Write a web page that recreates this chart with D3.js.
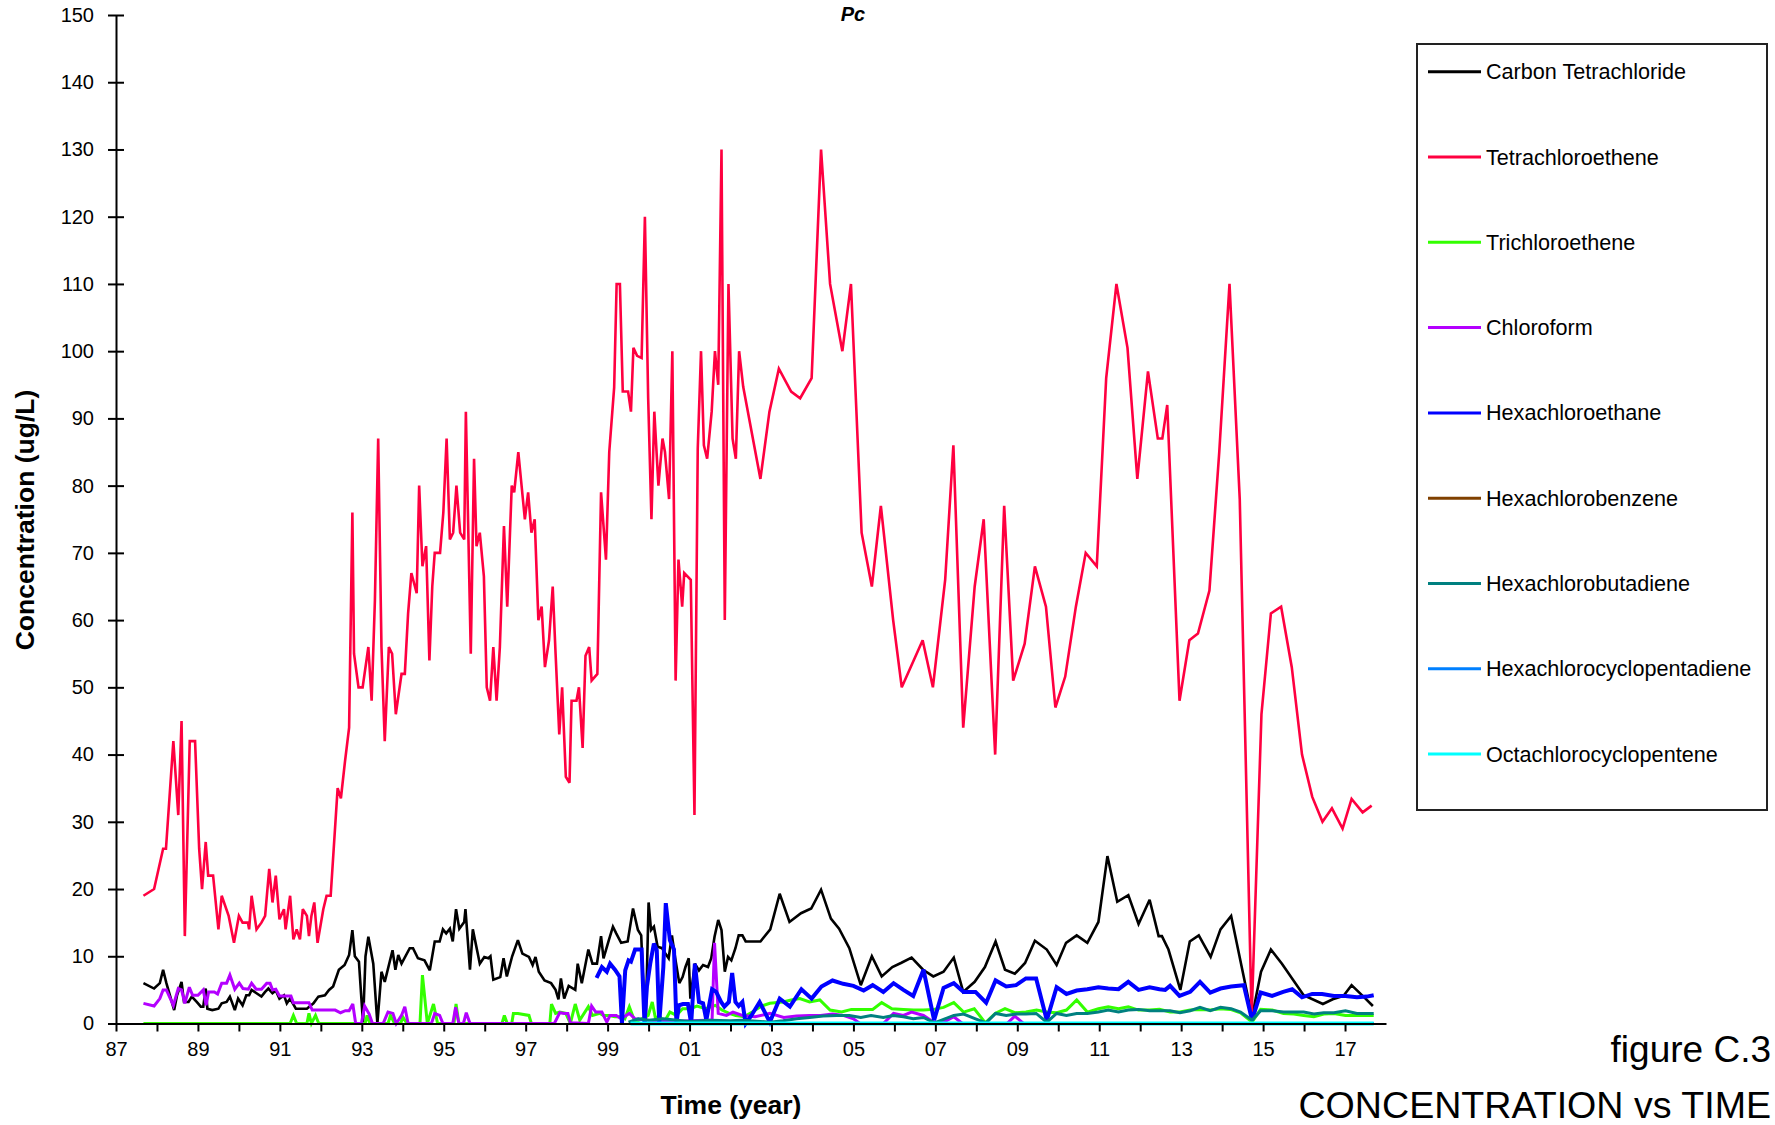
<!DOCTYPE html>
<html><head><meta charset="utf-8">
<script src="https://cdn.jsdelivr.net/npm/d3@7"></script>
<style>
body{margin:0;background:#fff;}
svg{display:block;font-family:"Liberation Sans",Arial,Helvetica,sans-serif;}
</style>
</head><body>
<svg id="chart" width="1775" height="1125"></svg>
<script>
// ---------- DATA ----------
const seriesNames = ["Carbon Tetrachloride","Tetrachloroethene","Trichloroethene","Chloroform","Hexachloroethane","Hexachlorobenzene","Hexachlorobutadiene","Hexachlorocyclopentadiene","Octachlorocyclopentene"];
const seriesColors = ["#000000","#FF0040","#33FF00","#B400FF","#0000FF","#804000","#008080","#0080FF","#00FFFF"];
const yTickValues = [0,10,20,30,40,50,60,70,80,90,100,110,120,130,140,150];
const xTickYears = [1987,1988,1989,1990,1991,1992,1993,1994,1995,1996,1997,1998,1999,2000,2001,2002,2003,2004,2005,2006,2007,2008,2009,2010,2011,2012,2013,2014,2015,2016,2017];

// [decimal year, ug/L]
const carbonTetrachloride = [[1987.67,6],[1987.93,5.2],[1988.07,6],[1988.15,8],[1988.23,6],[1988.42,2],[1988.49,4.2],[1988.6,6.2],[1988.66,3.2],[1988.77,3.2],[1988.85,4],[1988.97,3.2],[1989.07,2.5],[1989.13,2.5],[1989.19,5.2],[1989.23,2.2],[1989.35,2],[1989.5,2.2],[1989.58,3],[1989.7,3.2],[1989.78,4],[1989.9,2],[1989.98,3.7],[1990.09,2.7],[1990.18,4.2],[1990.25,4.2],[1990.31,5],[1990.43,4.5],[1990.55,4],[1990.64,4.7],[1990.72,5.2],[1990.82,4.5],[1990.9,4.9],[1990.99,3.7],[1991.1,4.2],[1991.17,3],[1991.25,3.7],[1991.39,2.2],[1991.53,2.2],[1991.66,2.2],[1991.82,3],[1991.94,4],[1992.1,4.2],[1992.2,5],[1992.3,5.5],[1992.44,8],[1992.58,8.7],[1992.69,10.2],[1992.77,13.9],[1992.83,10],[1992.93,9.2],[1993.03,0],[1993.09,10],[1993.16,12.9],[1993.28,8.9],[1993.38,0],[1993.48,7.7],[1993.56,6.2],[1993.75,10.9],[1993.82,8],[1993.89,10.2],[1993.97,8.9],[1994.17,11.2],[1994.25,11.2],[1994.37,9.7],[1994.53,9.4],[1994.66,7.9],[1994.78,12.2],[1994.9,12.2],[1994.98,14],[1995.06,13.4],[1995.15,14.1],[1995.22,12.2],[1995.3,17],[1995.38,14.1],[1995.5,15.1],[1995.53,17],[1995.64,8],[1995.71,14],[1995.83,10.4],[1995.88,8.9],[1995.99,9.9],[1996.09,9.7],[1996.14,10],[1996.21,6.5],[1996.38,6.9],[1996.46,9.7],[1996.54,7],[1996.67,10],[1996.81,12.4],[1996.92,10.4],[1997.08,9.9],[1997.17,8.7],[1997.24,9.9],[1997.32,7.7],[1997.46,6.4],[1997.62,6],[1997.73,5],[1997.8,3.6],[1997.86,6.7],[1997.94,3.7],[1998.05,5.6],[1998.21,5],[1998.27,8.9],[1998.37,6],[1998.53,11],[1998.63,8.9],[1998.74,8.9],[1998.84,13],[1998.9,9.7],[1999.03,12.4],[1999.13,14.4],[1999.21,13.4],[1999.33,12],[1999.49,12.2],[1999.62,17.1],[1999.74,13.9],[1999.82,13.1],[1999.86,7.2],[1999.93,0],[2000.0,18],[2000.06,13.9],[2000.13,14.4],[2000.22,11.4],[2000.33,11.2],[2000.41,10.4],[2000.49,9.7],[2000.57,13.1],[2000.65,9.7],[2000.75,6],[2000.83,6.9],[2000.9,8.4],[2000.98,9.7],[2001.02,3.7],[2001.13,8.9],[2001.23,7.9],[2001.33,8.7],[2001.45,8.4],[2001.53,9.7],[2001.61,12.9],[2001.7,15.4],[2001.78,13.9],[2001.86,7.7],[2001.94,9.9],[2002.02,9.4],[2002.12,11.2],[2002.2,13.1],[2002.29,13.1],[2002.37,12.2],[2002.73,12.2],[2002.97,14],[2003.2,19.3],[2003.44,15.1],[2003.72,16.4],[2003.97,17.1],[2004.21,19.9],[2004.45,15.6],[2004.65,14.1],[2004.9,11.2],[2005.18,5.7],[2005.45,10],[2005.69,7],[2005.95,8.4],[2006.16,9],[2006.42,9.8],[2006.7,8],[2006.95,7],[2007.2,7.7],[2007.45,9.8],[2007.68,4.7],[2007.96,6.2],[2008.21,8.4],[2008.47,12.2],[2008.7,8],[2008.94,7.4],[2009.19,9],[2009.43,12.3],[2009.72,11],[2009.96,8.7],[2010.19,12],[2010.45,13.1],[2010.71,12],[2010.98,15.1],[2011.2,24.9],[2011.44,18.1],[2011.71,19.1],[2011.96,14.8],[2012.23,18.4],[2012.45,13],[2012.53,13],[2012.69,11],[2012.98,5],[2013.21,12.2],[2013.43,13.1],[2013.72,9.9],[2013.96,14],[2014.22,16],[2014.73,1],[2014.95,7.7],[2015.19,11],[2015.46,8.9],[2015.99,4.2],[2016.46,2.9],[2016.7,3.6],[2016.96,4.1],[2017.16,5.7],[2017.45,4],[2017.68,2.6]];

const tetrachloroethene = [[1987.67,19],[1987.93,20],[1988.15,26],[1988.22,26],[1988.4,42],[1988.52,31],[1988.6,45],[1988.68,13],[1988.8,42],[1988.93,42],[1989.03,26],[1989.1,20],[1989.19,27],[1989.25,22],[1989.37,22],[1989.5,14],[1989.58,19],[1989.75,16],[1989.88,12],[1990.0,16],[1990.09,15],[1990.22,15],[1990.25,14],[1990.31,19],[1990.43,14],[1990.55,15],[1990.64,16],[1990.74,23],[1990.82,18],[1990.9,22],[1990.99,15.5],[1991.1,17],[1991.14,14],[1991.25,19],[1991.33,12.5],[1991.41,14],[1991.49,12.5],[1991.56,17],[1991.66,16],[1991.71,13],[1991.77,16],[1991.84,18],[1991.92,12],[1992.06,17],[1992.14,19],[1992.24,19],[1992.41,35],[1992.49,33.5],[1992.59,39],[1992.69,44],[1992.77,76],[1992.81,55],[1992.92,50],[1993.02,50],[1993.16,56],[1993.24,48],[1993.32,63],[1993.4,87],[1993.48,56],[1993.56,42],[1993.66,56],[1993.74,55],[1993.83,46],[1993.97,52],[1994.05,52],[1994.13,61],[1994.21,67],[1994.34,64],[1994.4,80],[1994.48,68],[1994.57,71],[1994.65,54],[1994.72,65],[1994.78,70],[1994.91,70],[1994.99,76],[1995.07,87],[1995.15,72],[1995.23,73],[1995.31,80],[1995.4,73],[1995.5,72],[1995.54,91],[1995.66,55],[1995.74,84],[1995.8,71],[1995.88,73],[1995.98,66.5],[1996.05,50],[1996.13,48],[1996.21,56],[1996.29,48],[1996.37,56],[1996.47,74],[1996.55,62],[1996.66,80],[1996.72,79],[1996.82,85],[1996.98,75],[1997.06,79],[1997.14,73],[1997.22,75],[1997.31,60],[1997.39,62],[1997.47,53],[1997.57,57],[1997.66,65],[1997.73,55],[1997.82,43],[1997.89,50],[1997.98,36.7],[1998.07,35.8],[1998.12,48],[1998.24,48],[1998.3,50],[1998.39,41],[1998.46,54.7],[1998.55,56],[1998.61,51],[1998.75,52],[1998.84,79],[1998.96,69],[1999.04,85],[1999.16,94.6],[1999.22,110],[1999.3,110],[1999.37,94],[1999.5,94],[1999.57,91],[1999.63,100.5],[1999.72,99.3],[1999.83,99],[1999.91,120],[1999.99,93],[2000.07,75],[2000.14,91],[2000.24,80],[2000.34,87],[2000.4,85],[2000.5,78],[2000.58,100],[2000.66,51],[2000.73,69],[2000.82,62],[2000.87,67],[2001.03,66],[2001.12,31],[2001.2,85.5],[2001.28,100],[2001.35,86],[2001.43,84],[2001.54,91],[2001.62,100],[2001.7,95],[2001.78,130],[2001.86,60],[2001.95,110],[2002.05,87],[2002.13,84],[2002.21,100],[2002.31,94.7],[2002.73,81],[2002.95,91],[2003.18,97.4],[2003.48,94],[2003.7,93],[2003.98,96],[2004.21,130],[2004.43,110],[2004.73,100],[2004.94,110],[2005.2,73],[2005.45,65],[2005.67,77],[2005.97,60],[2006.18,50],[2006.69,57],[2006.94,50],[2007.24,66],[2007.44,86],[2007.68,44],[2007.96,65],[2008.18,75],[2008.46,40],[2008.68,77],[2008.9,51],[2009.18,56.5],[2009.43,68],[2009.7,62],[2009.93,47],[2010.17,51.6],[2010.43,62],[2010.67,70],[2010.94,68],[2011.17,96],[2011.42,110],[2011.69,100.5],[2011.93,81],[2012.19,97],[2012.43,87],[2012.54,87],[2012.66,92],[2012.96,48],[2013.2,57],[2013.41,58],[2013.69,64.4],[2013.93,85],[2014.18,110],[2014.43,78],[2014.72,1],[2014.96,46],[2015.19,61],[2015.44,62],[2015.7,53],[2015.95,40],[2016.2,33.7],[2016.45,30],[2016.68,32],[2016.94,29],[2017.16,33.4],[2017.43,31.4],[2017.65,32.4]];

const trichloroethene = [[1987.67,0],[1991.25,0],[1991.33,1.2],[1991.41,0],[1991.66,0],[1991.71,1.5],[1991.77,0],[1991.87,1.2],[1991.95,0],[1993.08,0],[1993.13,1.2],[1993.2,0],[1993.64,0],[1993.7,1.2],[1993.8,0],[1993.95,0],[1994.0,1],[1994.1,0],[1994.42,0],[1994.48,7.2],[1994.6,0],[1994.75,2.9],[1994.85,0],[1995.25,0],[1995.3,2.9],[1995.37,0],[1996.42,0],[1996.48,1.2],[1996.55,0],[1996.66,0],[1996.7,1.5],[1996.81,1.5],[1997.08,1.2],[1997.14,0],[1997.59,0],[1997.63,2.9],[1997.73,1.5],[1997.83,1.7],[1997.98,1.5],[1998.09,0],[1998.21,2.9],[1998.32,0.5],[1998.53,2.5],[1998.63,1.2],[1998.81,1.5],[1998.9,1.2],[1999.03,1.2],[1999.18,1],[1999.33,1],[1999.42,0.7],[1999.53,2.5],[1999.67,0.2],[1999.83,0.7],[1999.99,1.2],[2000.09,3.2],[2000.17,0.7],[2000.26,1.2],[2000.38,0.2],[2000.52,1.7],[2000.68,1.2],[2000.83,2.2],[2001.02,2.2],[2001.18,2.6],[2001.39,2.2],[2001.63,2.7],[2001.79,2],[2001.97,1.5],[2002.13,1.2],[2002.33,1],[2002.53,1.7],[2002.76,2.6],[2002.96,3],[2003.28,3.2],[2003.48,3.5],[2003.69,3.7],[2003.93,3.2],[2004.18,3.5],[2004.43,2],[2004.71,1.7],[2004.95,2.1],[2005.24,2.1],[2005.47,2.1],[2005.69,3.1],[2005.94,2.2],[2006.22,2.1],[2006.47,2],[2006.71,2],[2006.96,2.1],[2007.2,2.4],[2007.45,3.1],[2007.69,1.7],[2007.95,2.2],[2008.22,0.1],[2008.46,1.5],[2008.7,2.2],[2008.94,1.6],[2009.21,1.7],[2009.47,2],[2009.72,1.7],[2009.96,1.6],[2010.2,2],[2010.45,3.5],[2010.71,1.7],[2010.98,2.2],[2011.22,2.5],[2011.47,2.2],[2011.71,2.5],[2011.96,2],[2012.23,2],[2012.47,2.1],[2012.73,1.7],[2012.97,1.7],[2013.22,2],[2013.46,2.1],[2013.71,2],[2013.96,2.2],[2014.2,2.1],[2014.45,1.6],[2014.73,0.2],[2014.94,2.1],[2015.22,2],[2015.5,1.5],[2015.75,1.4],[2015.99,1.2],[2016.24,1],[2016.48,1.4],[2016.73,1.5],[2017.01,1.2],[2017.29,1.2],[2017.7,1.2]];

const chloroform = [[1987.67,3],[1987.93,2.6],[1988.07,3.7],[1988.15,5],[1988.23,5],[1988.4,2.7],[1988.52,5.2],[1988.6,5],[1988.68,3],[1988.79,5.4],[1988.87,4.2],[1989.0,4.2],[1989.13,5],[1989.2,2.7],[1989.26,4.7],[1989.4,4.7],[1989.48,4.4],[1989.58,6],[1989.7,6],[1989.78,7.2],[1989.9,5.1],[1990.01,6],[1990.1,5.2],[1990.23,5.1],[1990.31,6],[1990.42,5.1],[1990.55,5.1],[1990.68,6],[1990.76,6],[1990.82,5],[1990.9,5.1],[1990.99,4.1],[1991.15,4.1],[1991.27,4.1],[1991.33,3.1],[1991.71,3.1],[1991.79,2],[1992.35,2],[1992.48,1.6],[1992.6,1.9],[1992.69,1.9],[1992.78,2.9],[1992.85,0],[1992.99,0],[1993.07,2.6],[1993.18,1.4],[1993.26,0],[1993.52,0],[1993.64,1.7],[1993.76,1.5],[1993.84,0],[1993.97,1.2],[1994.05,2.5],[1994.13,0],[1994.7,0],[1994.78,1.5],[1994.9,1.2],[1994.98,0],[1995.22,0],[1995.29,2.4],[1995.37,0],[1995.48,0],[1995.55,1.6],[1995.64,0],[1997.7,0],[1997.83,1.6],[1997.95,1.5],[1998.03,1.5],[1998.09,0.1],[1998.53,0],[1998.61,2.6],[1998.71,1.7],[1998.86,1.7],[1998.98,0.2],[1999.06,1.2],[1999.21,1.2],[1999.33,0.7],[1999.53,1.5],[1999.67,0.7],[2000.0,0.5],[2000.5,0.3],[2001.0,0.4],[2001.41,0.5],[2001.55,0.5],[2001.61,12],[2001.7,1.5],[2001.9,1.2],[2002.06,1.7],[2002.29,1.2],[2002.6,1],[2002.96,1.5],[2003.3,0.9],[2003.61,1.1],[2003.93,1.2],[2004.2,1.2],[2004.49,1.4],[2004.75,1.2],[2005.0,0.7],[2005.16,0],[2005.73,0],[2005.98,1.5],[2006.22,1.2],[2006.42,1.7],[2006.71,1.2],[2006.96,0.2],[2007.2,0.2],[2007.45,1],[2007.66,0],[2008.75,0],[2008.94,1.1],[2009.15,0],[2017.7,0]];

const hexachloroethane = [[1998.73,6.8],[1998.86,8.4],[1998.98,7.7],[1999.06,8.9],[1999.18,8],[1999.29,7],[1999.35,0],[1999.43,7.9],[1999.51,9.4],[1999.57,9.2],[1999.67,11],[1999.83,11],[1999.9,0],[1999.96,5.5],[2000.04,8.9],[2000.13,11.9],[2000.2,10.9],[2000.26,0],[2000.36,8.4],[2000.42,17.9],[2000.52,12.4],[2000.62,11],[2000.68,0],[2000.74,2.7],[2000.84,2.9],[2000.96,2.9],[2001.04,0],[2001.13,8.9],[2001.23,3.2],[2001.33,3],[2001.41,0.5],[2001.55,5.1],[2001.65,4.7],[2001.77,3.2],[2001.85,2.5],[2001.96,3.2],[2002.04,7.5],[2002.12,3.2],[2002.2,2.6],[2002.29,3.2],[2002.37,0],[2002.51,1.2],[2002.71,3.2],[2002.96,0.2],[2003.2,3.7],[2003.45,2.5],[2003.73,5.1],[2003.98,3.7],[2004.22,5.5],[2004.49,6.4],[2004.75,5.9],[2005.0,5.6],[2005.25,4.9],[2005.47,5.7],[2005.73,4.7],[2005.98,6],[2006.22,5],[2006.46,4.1],[2006.71,8],[2006.97,0.5],[2007.2,5.3],[2007.45,6],[2007.69,4.7],[2007.98,4.7],[2008.24,3.1],[2008.47,6.4],[2008.73,5.5],[2008.97,5.7],[2009.21,6.7],[2009.46,6.7],[2009.72,0.5],[2009.96,5.4],[2010.2,4.4],[2010.45,4.9],[2010.71,5.1],[2010.98,5.4],[2011.22,5.2],[2011.47,5.1],[2011.71,6.2],[2011.96,5],[2012.23,5.4],[2012.47,5.1],[2012.61,5],[2012.73,5.6],[2012.96,4.1],[2013.22,4.7],[2013.46,6.2],[2013.71,4.6],[2013.96,5.2],[2014.22,5.5],[2014.53,5.7],[2014.73,0.5],[2014.94,4.6],[2015.22,4.1],[2015.49,4.7],[2015.71,5.1],[2015.95,3.9],[2016.2,4.4],[2016.44,4.4],[2016.73,4.1],[2017.01,4.1],[2017.29,3.9],[2017.53,4],[2017.7,4.2]];

const hexachlorobenzene = [[1999.56,0],[2003.0,0],[2008.0,0],[2014.73,0],[2017.7,0]];

const hexachlorobutadiene = [[1999.51,0.2],[1999.75,0.7],[2000.0,0.5],[2000.36,0.7],[2000.7,0.5],[2001.0,0.3],[2001.5,0.5],[2002.0,0.4],[2002.29,0.5],[2002.96,0.2],[2003.28,0.4],[2003.61,0.7],[2003.93,0.9],[2004.26,1.1],[2004.59,1.2],[2004.9,1.2],[2005.18,0.9],[2005.43,1.2],[2005.73,0.9],[2005.97,1.2],[2006.22,1],[2006.46,0.7],[2006.71,0.9],[2006.98,0.1],[2007.2,0.6],[2007.45,1.2],[2007.69,1.4],[2007.98,0.7],[2008.24,0.1],[2008.47,1.5],[2008.73,1.2],[2008.97,1.4],[2009.21,1.4],[2009.46,1.5],[2009.72,0.2],[2009.96,1.5],[2010.2,1.2],[2010.45,1.5],[2010.71,1.5],[2010.98,1.7],[2011.22,2],[2011.47,1.7],[2011.71,2],[2011.96,2.1],[2012.23,1.9],[2012.47,1.9],[2012.73,1.9],[2012.97,1.6],[2013.22,1.9],[2013.46,2.4],[2013.71,1.9],[2013.96,2.4],[2014.22,2.2],[2014.45,1.7],[2014.73,0.5],[2014.94,1.9],[2015.22,1.9],[2015.5,1.7],[2015.75,1.7],[2015.99,1.7],[2016.24,1.4],[2016.48,1.6],[2016.73,1.6],[2017.01,1.9],[2017.29,1.5],[2017.7,1.5]];

const hexachlorocyclopentadiene = [[1999.56,0],[2003.0,0],[2008.0,0],[2014.73,0],[2017.7,0]];

const octachlorocyclopentene = [[1999.56,0],[2001.0,0],[2003.0,0],[2005.0,0],[2007.0,0],[2009.0,0],[2011.0,0],[2013.0,0],[2015.0,0],[2017.7,0]];

const seriesData = [carbonTetrachloride, tetrachloroethene, trichloroethene, chloroform, hexachloroethane, hexachlorobenzene, hexachlorobutadiene, hexachlorocyclopentadiene, octachlorocyclopentene];
const seriesWidths = [2.6, 2.6, 3, 3, 4, 3, 3, 3, 4.2];

// ---------- CHART ----------
const svg = d3.select("#chart");
const x = d3.scaleLinear().domain([1987, 2018]).range([116, 1386]);
const y = d3.scaleLinear().domain([0, 150]).range([1023.5, 15]);

// lines
const line = d3.line().x(d => x(d[0])).y(d => y(d[1]));
const gLines = svg.append("g");
seriesData.forEach((s, i) => {
  gLines.append("path")
    .datum(s)
    .attr("fill", "none")
    .attr("stroke", seriesColors[i])
    .attr("stroke-width", seriesWidths[i])
    .attr("stroke-linejoin", "miter")
    .attr("stroke-miterlimit", 3)
    .attr("d", line);
});

// y axis
const yAxis = d3.axisLeft(y).tickValues(yTickValues).tickSize(8).tickSizeOuter(0).tickPadding(14).tickFormat(d3.format("d"));
const gy = svg.append("g").attr("transform", "translate(116,0)").call(yAxis);
gy.select(".domain").attr("stroke", "#000").attr("stroke-width", 2);
gy.selectAll(".tick line").attr("x1", -8).attr("x2", 8).attr("stroke", "#000").attr("stroke-width", 2);
gy.selectAll(".tick text").attr("font-size", 20).attr("fill", "#000").attr("font-family", "Liberation Sans, Arial, sans-serif");

// x axis
const xAxis = d3.axisBottom(x).tickValues(xTickYears).tickSize(8).tickSizeOuter(0)
  .tickFormat(d => (d % 2 === 1) ? String(d % 100).padStart(2, "0") : "");
const gx = svg.append("g").attr("transform", "translate(0,1023.5)").call(xAxis);
gx.select(".domain").attr("stroke", "#000").attr("stroke-width", 2);
gx.selectAll(".tick line").attr("stroke", "#000").attr("stroke-width", 2);
gx.selectAll(".tick text").attr("font-size", 20).attr("fill", "#000").attr("y", 18).attr("font-family", "Liberation Sans, Arial, sans-serif");

// axis titles
svg.append("text")
  .attr("transform", "translate(25,520) rotate(-90)")
  .attr("text-anchor", "middle").attr("dominant-baseline", "central")
  .attr("font-size", 26.5).attr("font-weight", "bold").text("Concentration (ug/L)");
svg.append("text")
  .attr("x", 731).attr("y", 1114).attr("text-anchor", "middle")
  .attr("font-size", 26.5).attr("font-weight", "bold").text("Time (year)");

// title (near top edge, kept fully visible)
svg.append("text")
  .attr("x", 853).attr("y", 21).attr("text-anchor", "middle")
  .attr("font-size", 20).attr("font-weight", "bold").attr("font-style", "italic").text("Pc");

// legend
const lg = svg.append("g");
lg.append("rect").attr("x", 1417).attr("y", 44).attr("width", 350).attr("height", 766)
  .attr("fill", "#fff").attr("stroke", "#222").attr("stroke-width", 2);
seriesNames.forEach((n, i) => {
  const yy = 71.7 + i * 85.3;
  lg.append("line").attr("x1", 1428).attr("x2", 1481).attr("y1", yy).attr("y2", yy)
    .attr("stroke", seriesColors[i]).attr("stroke-width", 3);
  lg.append("text").attr("x", 1486).attr("y", yy).attr("dominant-baseline", "central")
    .attr("font-size", 21.6).attr("fill", "#000").text(n);
});

// figure captions
svg.append("text").attr("x", 1771).attr("y", 1062).attr("text-anchor", "end")
  .attr("font-size", 37).attr("fill", "#000").text("figure C.3");
svg.append("text").attr("x", 1771).attr("y", 1118).attr("text-anchor", "end")
  .attr("font-size", 37.6).attr("fill", "#000").text("CONCENTRATION vs TIME");
</script>
</body></html>
